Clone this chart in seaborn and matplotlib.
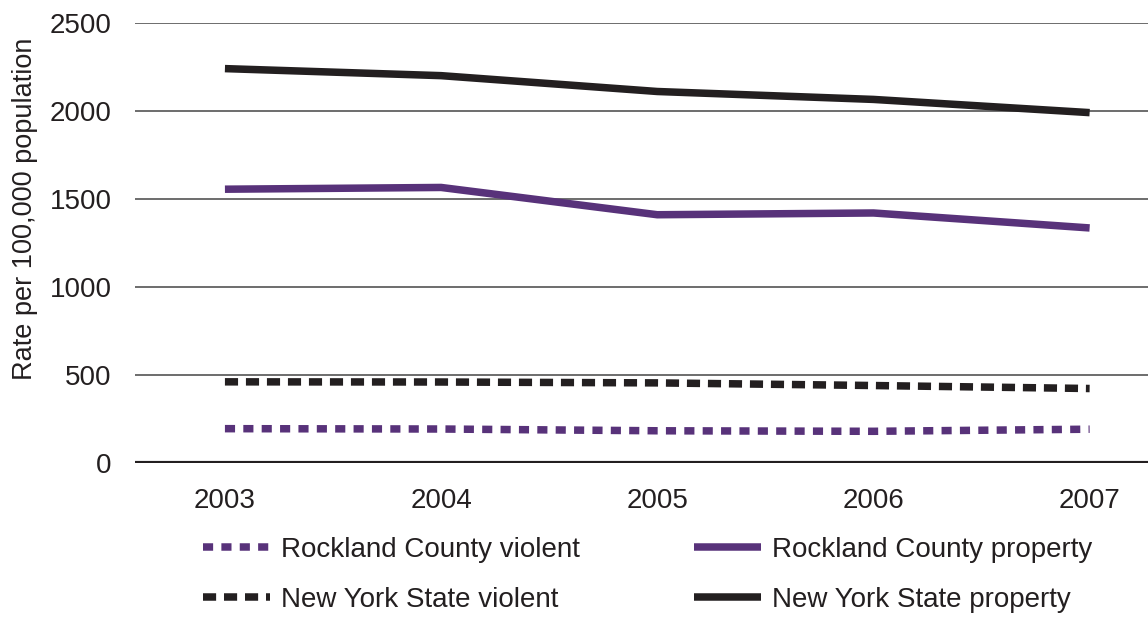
import matplotlib
matplotlib.use("Agg")
import matplotlib.pyplot as plt
import seaborn as sns
import pandas as pd

# values
years = [2003, 2004, 2005, 2006, 2007]
rockland_violent = [195, 193, 183, 180, 192]
rockland_property = [1555, 1565, 1410, 1420, 1335]
nys_violent = [461, 460, 455, 440, 423]
nys_property = [2240, 2200, 2110, 2065, 1990]

labels = ["Rockland County violent", "Rockland County property",
          "New York State violent", "New York State property"]

purple = "#58327a"
black = "#231f20"

sns.set_theme(style="white")
plt.rcParams['font.family'] = ['Liberation Sans', 'DejaVu Sans']

fig = plt.figure(figsize=(11.48, 6.17), dpi=100)
ax = fig.add_axes([0.1176, 0.2496, 0.8824, 0.7134])

series = [
    (rockland_violent, labels[0], purple, (1.35, 1.1)),
    (rockland_property, labels[1], purple, None),
    (nys_violent, labels[2], black, (1.75, 1.05)),
    (nys_property, labels[3], black, None),
]

lw = 5.4
handles = {}
for vals, name, col, dash in series:
    df = pd.DataFrame({"year": years, "rate": vals})
    sns.lineplot(data=df, x="year", y="rate", color=col, linewidth=lw,
                 ax=ax, label=name, solid_capstyle="butt", dash_capstyle="butt")
    line = ax.lines[-1]
    if dash is not None:
        line.set_dashes(dash)
    handles[name] = line

ax.set_xlim(2002.584, 2007.27)
ax.set_ylim(0, 2500)
ax.set_yticks([0, 500, 1000, 1500, 2000, 2500])
ax.set_xticks(years)
ax.grid(axis="y", color="#6d6d6d", linewidth=1.4)
ax.grid(axis="x", visible=False)
ax.axhline(0, color=black, linewidth=3, zorder=1)
for s in ax.spines.values():
    s.set_visible(False)
ax.tick_params(axis="both", length=0, labelsize=20, colors="#231f20")
ax.tick_params(axis="y", pad=17)
ax.tick_params(axis="x", pad=18)
ax.set_xlabel("")
ax.set_ylabel("Rate per 100,000 population", fontsize=19.5, color="#231f20")
ax.yaxis.set_label_coords(-0.0958, 0.578)

ax.get_legend().remove()
# legend fills column by column
order = [labels[0], labels[2], labels[1], labels[3]]
fig.legend([handles[l] for l in order], order, ncol=2, frameon=False,
           loc="upper left", bbox_to_anchor=(0.165, 0.152),
           fontsize=20, handlelength=2.4, handletextpad=0.4,
           columnspacing=4.1, labelspacing=0.85, borderpad=0,
           labelcolor="#231f20")

fig.savefig("out.png", dpi=100)
